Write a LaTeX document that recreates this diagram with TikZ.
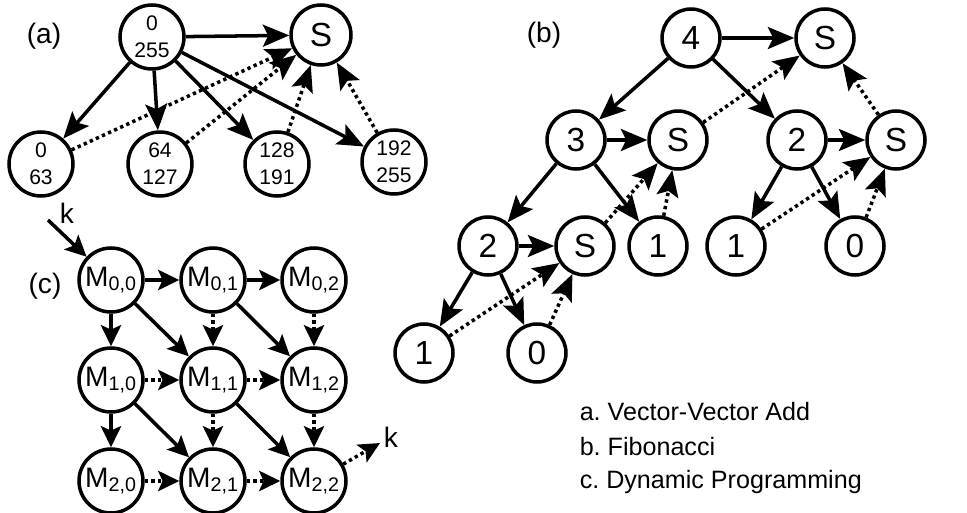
\documentclass[tikz,border=0pt]{standalone}
\usepackage{fontspec}
\setmainfont{Liberation Sans}
\usetikzlibrary{arrows.meta}

\begin{document}
\begin{tikzpicture}[x=0.02cm,y=-0.02cm,line width=2pt,
    >={Stealth[length=15pt,width=12.5pt,inset=3pt]},
    vec/.style={draw,circle,minimum size=1.28cm,inner sep=0pt,align=center,
        font=\fontsize{12}{15.5}\selectfont},
    sumnode/.style={draw,circle,minimum size=1.2cm,inner sep=0pt,
        font=\fontsize{19}{21}\selectfont},
    fib/.style={draw,circle,minimum size=1.16cm,inner sep=0pt,
        font=\fontsize{19}{21}\selectfont},
    dp/.style={draw,circle,minimum size=1.28cm,inner sep=0pt,
        font=\fontsize{16}{18}\selectfont},
    sync/.style={->,dash pattern=on 1.9pt off 1.9pt},
    lbl/.style={font=\fontsize{16}{18}\selectfont},
    legend/.style={anchor=west,inner sep=0pt,font=\fontsize{14.3}{16}\selectfont}]
    \useasboundingbox (0,0) rectangle (967,513);

    \node[lbl] (la) at (44,36) {(a)};
    \node[vec] (top) at (152,37) {0\\255};
    \node[sumnode] (aS) at (321,35) {S};
    \node[vec] (v0) at (41,164) {0\\63};
    \node[vec] (v1) at (160,164) {64\\127};
    \node[vec] (v2) at (277,164) {128\\191};
    \node[vec] (v3) at (394,162) {192\\255};
    \draw[->] (top) -- (aS);
    \foreach \v in {v0,v1,v2,v3} {
        \draw[->] (top) -- (\v);
        \draw[sync] (\v) -- (aS);
    }

    \node[lbl] (lb) at (544,35) {(b)};
    \node[fib] (f4) at (691,38) {4};
    \node[fib] (s4) at (825,38) {S};
    \node[fib] (f3) at (576,140) {3};
    \node[fib] (s3) at (678,140) {S};
    \node[fib] (f2r) at (797,140) {2};
    \node[fib] (s2r) at (896,140) {S};
    \node[fib] (f2l) at (488,246) {2};
    \node[fib] (s2l) at (585,246) {S};
    \node[fib] (f1m) at (658,246) {1};
    \node[fib] (f1r) at (736,246) {1};
    \node[fib] (f0r) at (855,246) {0};
    \node[fib] (f1l) at (424,353) {1};
    \node[fib] (f0l) at (537,353) {0};
    \draw[->] (f4) -- (s4);
    \draw[->] (f4) -- (f3);
    \draw[->] (f4) -- (f2r);
    \draw[->] (f3) -- (s3);
    \draw[->] (f3) -- (f2l);
    \draw[->] (f3) -- (f1m);
    \draw[->] (f2r) -- (s2r);
    \draw[->] (f2r) -- (f1r);
    \draw[->] (f2r) -- (f0r);
    \draw[->] (f2l) -- (s2l);
    \draw[->] (f2l) -- (f1l);
    \draw[->] (f2l) -- (f0l);
    \draw[sync] (s3) -- (s4);
    \draw[sync] (s2r) -- (s4);
    \draw[sync] (s2l) -- (s3);
    \draw[sync] (f1m) -- (s3);
    \draw[sync] (f1r) -- (s2r);
    \draw[sync] (f0r) -- (s2r);
    \draw[sync] (f1l) -- (s2l);
    \draw[sync] (f0l) -- (s2l);

    \begin{scope}[>={Stealth[length=12pt,width=11.5pt,inset=2.5pt]}]
    \node[lbl] (lc) at (45,286) {(c)};
    \foreach \i/\y in {0/280,1/380,2/481} {
        \foreach \j/\x in {0/111,1/213,2/314} {
            \node[dp] (m\i\j) at (\x,\y) {M\textsubscript{\i,\j}};
        }
    }
    \coordinate (kin) at (48,220);
    \coordinate (kout) at (380,443);
    \node[lbl] (kinl) at (67,213) {k};
    \node[lbl] (koutl) at (391,437) {k};
    \draw[->] (kin) -- (m00);
    \draw[->] (m00) -- (m01);
    \draw[->] (m01) -- (m02);
    \draw[->] (m00) -- (m10);
    \draw[->] (m10) -- (m20);
    \draw[->] (m00) -- (m11);
    \draw[->] (m01) -- (m12);
    \draw[->] (m10) -- (m21);
    \draw[->] (m11) -- (m22);
    \draw[sync] (m01) -- (m11);
    \draw[sync] (m11) -- (m21);
    \draw[sync] (m02) -- (m12);
    \draw[sync] (m12) -- (m22);
    \draw[sync] (m10) -- (m11);
    \draw[sync] (m11) -- (m12);
    \draw[sync] (m20) -- (m21);
    \draw[sync] (m21) -- (m22);
    \draw[sync] (m22) -- (kout);
    \end{scope}

    \node[legend] (ka) at (578,412) {a.\ Vector-Vector Add};
    \node[legend] (kb) at (578,447) {b.\ Fibonacci};
    \node[legend] (kc) at (578,482) {c.\ Dynamic Programming};
\end{tikzpicture}
\end{document}
